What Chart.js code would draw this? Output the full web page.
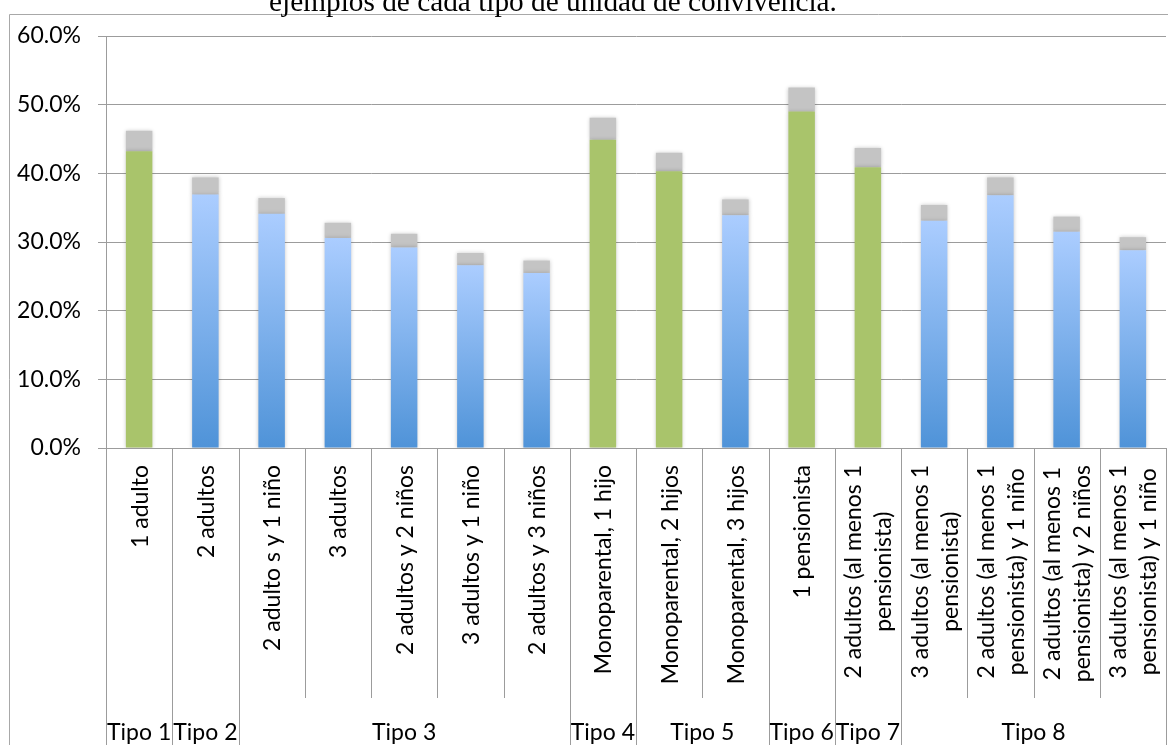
<!DOCTYPE html>
<html>
<head>
<meta charset="utf-8">
<title>Unidades de convivencia</title>
<script src="https://cdn.jsdelivr.net/npm/chart.js@4.4.1/dist/chart.umd.min.js"></script>
<style>
  html, body { margin: 0; padding: 0; background: #ffffff; }
  #wrap { width: 1168px; height: 745px; position: relative; overflow: hidden; }
  canvas { display: block; }
</style>
</head>
<body>
<div id="wrap"><canvas id="grafico" width="1168" height="745"></canvas></div>
<script>
// Unidades de convivencia (cada línea de la etiqueta es un elemento)
const categorias = [
  ["1 adulto"],
  ["2 adultos"],
  ["2 adulto s y 1 niño"],
  ["3 adultos"],
  ["2 adultos y 2 niños"],
  ["3 adultos y 1 niño"],
  ["2 adultos y 3 niños"],
  ["Monoparental, 1 hijo"],
  ["Monoparental, 2 hijos"],
  ["Monoparental, 3 hijos"],
  ["1 pensionista"],
  ["2 adultos (al menos 1", "pensionista)"],
  ["3 adultos (al menos 1", "pensionista)"],
  ["2 adultos (al menos 1", "pensionista) y 1 niño"],
  ["2 adultos (al menos 1", "pensionista) y 2 niños"],
  ["3 adultos (al menos 1", "pensionista) y 1 niño"]
];

// Agrupación por tipo y número de unidades en cada tipo
const tipos = ["Tipo 1", "Tipo 2", "Tipo 3", "Tipo 4", "Tipo 5", "Tipo 6", "Tipo 7", "Tipo 8"];
const unidadesPorTipo = [1, 1, 5, 1, 2, 1, 1, 4];

// Porcentaje base y tramo adicional (gris) de cada unidad
const porcentajeBase = [43.2, 36.9, 34.1, 30.6, 29.2, 26.6, 25.5, 44.9, 40.3, 33.9, 49.0, 40.9, 33.1, 36.8, 31.5, 28.8];
const porcentajeAdicional = [3.0, 2.5, 2.3, 2.2, 2.0, 1.8, 1.8, 3.2, 2.7, 2.3, 3.5, 2.8, 2.3, 2.6, 2.2, 1.9];

// Eje vertical
const marcasY = [0, 10, 20, 30, 40, 50, 60];
const etiquetasY = ["0.0%", "10.0%", "20.0%", "30.0%", "40.0%", "50.0%", "60.0%"];

const titulo = "ejemplos de cada tipo de unidad de convivencia.";

// ---- estilo ----
const VERDE = "#A9C46B";
const AZUL_CLARO = "#ABCDFF";
const AZUL_OSCURO = "#4F93D8";
const GRIS_BARRA = "#C4C4C4";
const GRIS_REJILLA = "#9C9C9C";
const GRIS_MARCO = "#A8A8A8";
const FUENTE = "Lato, 'Noto Sans', sans-serif";
const TAM = 23;
const barrasVerdes = new Set([0, 7, 8, 10, 11]);

function rellenoBase(ctx) {
  const i = ctx.dataIndex;
  if (barrasVerdes.has(i)) return VERDE;
  const chart = ctx.chart;
  const ys = chart.scales && chart.scales.y;
  if (!ys || !chart.chartArea) return AZUL_CLARO;
  const arriba = ys.getPixelForValue(porcentajeBase[i]);
  const abajo = ys.getPixelForValue(0);
  const g = chart.ctx.createLinearGradient(0, arriba, 0, abajo);
  g.addColorStop(0, AZUL_CLARO);
  g.addColorStop(1, AZUL_OSCURO);
  return g;
}

// Sombra suave de las barras
const sombraBarras = {
  id: "sombraBarras",
  beforeDatasetsDraw(chart) {
    const c = chart.ctx;
    c.save();
    c.shadowColor = "rgba(0,0,0,0.22)";
    c.shadowBlur = 4;
    c.shadowOffsetX = 0;
    c.shadowOffsetY = 0;
  },
  afterDatasetsDraw(chart) {
    chart.ctx.restore();
  }
};

// Marco, título y eje de categorías en dos niveles
const ejeCategorias = {
  id: "ejeCategorias",
  afterDraw(chart) {
    const c = chart.ctx;
    const xs = chart.scales.x;
    const area = chart.chartArea;
    const W = chart.width, H = chart.height;
    const paso = (area.right - area.left) / categorias.length;

    c.save();
    // marco exterior
    c.strokeStyle = GRIS_MARCO;
    c.lineWidth = 1;
    c.beginPath();
    c.moveTo(9.5, H);
    c.lineTo(9.5, 14.5);
    c.lineTo(W, 14.5);
    c.stroke();

    // título
    c.fillStyle = "#000";
    c.font = "29.3px 'Liberation Serif', 'Times New Roman', serif";
    c.textAlign = "center";
    c.textBaseline = "alphabetic";
    c.fillText(titulo, 553, 11);

    // etiquetas de unidades, giradas; las líneas se centran entre sí
    c.font = TAM + "px " + FUENTE;
    c.textAlign = "center";
    c.textBaseline = "middle";
    const interlinea = 30;
    categorias.forEach((lineas, i) => {
      const cx = xs.getPixelForValue(i);
      const ancho = Math.max(...lineas.map(t => c.measureText(t).width));
      c.save();
      c.translate(cx, area.bottom + 17);
      c.rotate(-Math.PI / 2);
      lineas.forEach((t, k) => {
        const off = (k - (lineas.length - 1) / 2) * interlinea;
        c.fillText(t, -ancho / 2, off + 1);
      });
      c.restore();
    });

    // separadores y nombres de tipo
    c.strokeStyle = GRIS_REJILLA;
    c.beginPath();
    let inicio = 0;
    const bordes = [0];
    unidadesPorTipo.forEach(n => { inicio += n; bordes.push(inicio); });
    for (let k = 0; k <= categorias.length; k++) {
      const x = Math.round(area.left + k * paso) + 0.5;
      const largo = bordes.includes(k);
      c.moveTo(x, area.bottom);
      c.lineTo(x, largo ? H : 698);
    }
    c.stroke();

    c.textAlign = "center";
    c.textBaseline = "alphabetic";
    tipos.forEach((t, g) => {
      const x0 = area.left + bordes[g] * paso;
      const x1 = area.left + bordes[g + 1] * paso;
      c.fillText(t, (x0 + x1) / 2, 740);
    });
    c.restore();
  }
};

new Chart(document.getElementById("grafico"), {
  type: "bar",
  data: {
    labels: categorias.map(l => l.join(" ")),
    datasets: [
      {
        label: "Base",
        data: porcentajeBase,
        backgroundColor: rellenoBase,
        borderWidth: 0,
        barPercentage: 0.4,
        categoryPercentage: 1.0
      },
      {
        label: "Adicional",
        data: porcentajeAdicional,
        backgroundColor: GRIS_BARRA,
        borderWidth: 0,
        barPercentage: 0.4,
        categoryPercentage: 1.0
      }
    ]
  },
  options: {
    responsive: false,
    animation: false,
    events: [],
    layout: { padding: { left: 9, right: 2, top: 36, bottom: 0 } },
    plugins: {
      legend: { display: false },
      tooltip: { enabled: false },
      title: { display: false }
    },
    scales: {
      x: {
        stacked: true,
        grid: { display: false },
        ticks: { display: false },
        border: { display: true, color: GRIS_REJILLA },
        afterFit(s) { s.height = 297; }
      },
      y: {
        stacked: true,
        min: marcasY[0],
        max: marcasY[marcasY.length - 1],
        afterBuildTicks(s) { s.ticks = marcasY.map(v => ({ value: v })); },
        ticks: {
          callback: (v) => etiquetasY[marcasY.indexOf(v)],
          color: "#000",
          font: { family: FUENTE, size: TAM },
          padding: 17
        },
        grid: { color: GRIS_REJILLA, tickLength: 8, drawTicks: true },
        border: { display: true, color: GRIS_REJILLA },
        afterFit(s) { s.width = 97; }
      }
    }
  },
  plugins: [sombraBarras, ejeCategorias]
});
</script>
</body>
</html>
